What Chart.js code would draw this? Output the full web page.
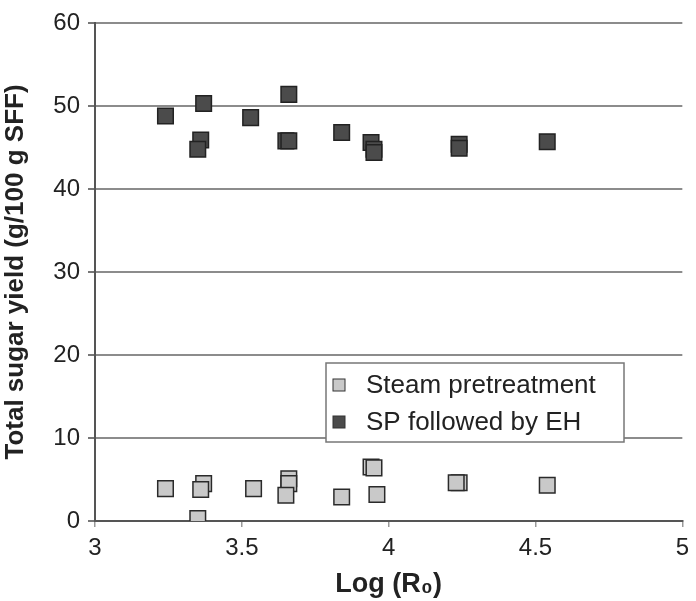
<!DOCTYPE html>
<html>
<head>
<meta charset="utf-8">
<script src="https://cdn.jsdelivr.net/npm/chart.js@4"></script>
<style>
  html, body { margin: 0; padding: 0; background: #fff; }
  #wrap { width: 696px; height: 601px; }
</style>
</head>
<body>
<div id="wrap"><canvas id="sugarChart" width="696" height="601"></canvas></div>
<script>
// series labels
const seriesNames = ['Steam pretreatment', 'SP followed by EH'];

// steam pretreatment only
const steamX = [3.24, 3.37, 3.36, 3.35, 3.54, 3.66, 3.66, 3.65, 3.84, 3.94, 3.95, 3.96, 4.24, 4.23, 4.54];
const steamY = [3.9, 4.5, 3.8, 0.3, 3.9, 5.1, 4.5, 3.1, 2.9, 6.5, 6.4, 3.2, 4.6, 4.6, 4.3];

// steam pretreatment followed by enzymatic hydrolysis
const ehX = [3.24, 3.37, 3.36, 3.35, 3.53, 3.66, 3.65, 3.66, 3.84, 3.94, 3.95, 3.95, 4.24, 4.24, 4.54];
const ehY = [48.8, 50.3, 45.9, 44.8, 48.6, 51.4, 45.8, 45.8, 46.8, 45.6, 44.8, 44.4, 45.4, 44.9, 45.7];

// axis ranges / ticks
const xTicks = [3, 3.5, 4, 4.5, 5];
const yTicks = [0, 10, 20, 30, 40, 50, 60];

const toPoints = (xs, ys) => xs.map((x, i) => ({ x: x, y: ys[i] }));

const fontFamily = '"Liberation Sans", Arial, Helvetica, sans-serif';
const lightFill = '#c9c9c9';
const darkFill = '#4b4b4b';

// white page + custom legend inside the plot
const bgAndLegend = {
    id: 'bgAndLegend',
    beforeDraw(chart) {
        const c = chart.ctx;
        c.save();
        c.fillStyle = '#fff';
        c.fillRect(0, 0, chart.width, chart.height);
        c.restore();
    },
    afterDraw(chart) {
        const c = chart.ctx;
        const box = { x: 326, y: 363, w: 298, h: 79 };
        c.save();
        c.fillStyle = '#fff';
        c.fillRect(box.x, box.y, box.w, box.h);
        c.strokeStyle = '#777';
        c.lineWidth = 1.5;
        c.strokeRect(box.x, box.y, box.w, box.h);
        c.font = '26px ' + fontFamily;
        c.textBaseline = 'middle';
        chart.data.datasets.forEach((ds, i) => {
            const cy = box.y + 22 + i * 37;
            c.fillStyle = ds.backgroundColor;
            c.strokeStyle = '#333';
            c.lineWidth = 1;
            c.fillRect(333, cy - 6, 12, 12);
            c.strokeRect(333, cy - 6, 12, 12);
            c.fillStyle = '#222';
            c.fillText(ds.label, 366, cy + 1);
        });
        c.restore();
    }
};

const ctx = document.getElementById('sugarChart').getContext('2d');

const data = {
    datasets: [
        {
            label: seriesNames[0],
            data: toPoints(steamX, steamY),
            backgroundColor: lightFill,
            borderColor: '#2a2a2a',
            borderWidth: 1.5,
            pointStyle: 'rect',
            pointRadius: 11,
            pointHoverRadius: 11
        },
        {
            label: seriesNames[1],
            data: toPoints(ehX, ehY),
            backgroundColor: darkFill,
            borderColor: '#222',
            borderWidth: 1.5,
            pointStyle: 'rect',
            pointRadius: 11,
            pointHoverRadius: 11
        }
    ]
};

const config = {
    type: 'scatter',
    data: data,
    options: {
        responsive: false,
        animation: false,
        devicePixelRatio: 1,
        layout: { padding: { top: 23, right: 10, left: 0, bottom: 0 } },
        plugins: {
            legend: { display: false },
            tooltip: { enabled: false }
        },
        scales: {
            x: {
                type: 'linear',
                min: 3,
                max: 5,
                afterBuildTicks: (scale) => { scale.ticks = xTicks.map(v => ({ value: v })); },
                afterFit: (scale) => { scale.height = 80; },
                grid: {
                    drawOnChartArea: false,
                    drawTicks: true,
                    tickLength: 6,
                    tickColor: '#999',
                    lineWidth: 1.5
                },
                border: { display: true, color: '#555', width: 2 },
                ticks: {
                    color: '#222',
                    padding: 7,
                    font: { family: fontFamily, size: 24 },
                    maxRotation: 0,
                    callback: (v) => v
                },
                title: {
                    display: true,
                    text: 'Log (R\u2080)',
                    color: '#222',
                    padding: { top: 0, bottom: 0 },
                    font: { family: fontFamily, size: 27, weight: 'bold' }
                }
            },
            y: {
                type: 'linear',
                min: 0,
                max: 60,
                afterBuildTicks: (scale) => { scale.ticks = yTicks.map(v => ({ value: v })); },
                afterFit: (scale) => { scale.width = 95; },
                grid: {
                    color: '#8c8c8c',
                    lineWidth: 2,
                    drawTicks: true,
                    tickLength: 7,
                    tickColor: '#777'
                },
                border: { display: true, color: '#555', width: 2 },
                ticks: {
                    color: '#222',
                    padding: 8,
                    font: { family: fontFamily, size: 24 }
                },
                title: {
                    display: true,
                    text: 'Total sugar yield (g/100 g SFF)',
                    color: '#222',
                    padding: { top: 0, bottom: 2 },
                    font: { family: fontFamily, size: 26, weight: 'bold' }
                }
            }
        }
    },
    plugins: [bgAndLegend]
};

const sugarChart = new Chart(ctx, config);
</script>
</body>
</html>
